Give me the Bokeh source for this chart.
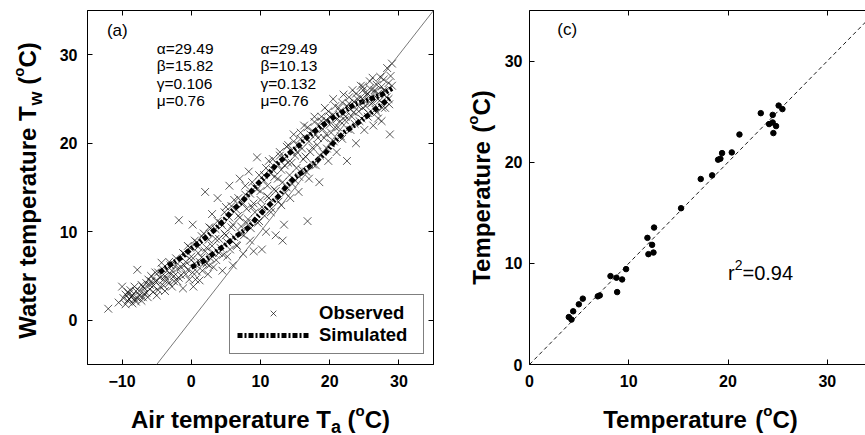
import numpy as np
from bokeh.plotting import figure
from bokeh.layouts import row, column
from bokeh.models import (Label, LinearAxis, FixedTicker, Legend, LegendItem, Slope,
                          CustomJSTickFormatter, Range1d)
from bokeh.embed import file_html
from bokeh.resources import INLINE

FONT = "Liberation Sans"

# ---------------- data: panel (a) ----------------
observed = [
    (-12, 1.3), (-10.5, 2.0), (-10, 3.8), (-9.8, 2.5), (-9.5, 1.8), (-9.2, 2.2), (-9, 3.0), (-8.7, 2.6), (-8.5, 1.9), (-8.2, 2.4),
    (-8, 3.3), (-7.8, 5.7), (-7.5, 2.8), (-7.2, 2.2), (-7, 3.8), (-6.8, 3.0), (-6.5, 4.2), (-6.3, 2.6), (-6, 3.5), (-5.8, 5.0),
    (-5.5, 3.2), (-5.2, 4.4), (-5, 2.8), (-4.8, 5.4), (-4.5, 3.8), (-4.3, 6.5), (-4, 4.6), (-3.8, 3.3), (-3.5, 5.6), (-3.2, 4.2),
    (-3, 6.2), (-2.8, 3.8), (-2.5, 5.0), (-2.2, 7.0), (-2, 4.4), (-1.8, 11.3), (-1.5, 6.0), (-1.2, 3.6), (-1, 7.5), (-0.8, 5.2),
    (-0.5, 8.4), (-0.3, 4.6), (0, 6.8), (0.2, 10.8), (0.3, 3.8), (0.5, 9.0), (0.8, 5.5), (1, 7.6), (1.2, 4.5), (1.5, 9.5),
    (1.8, 6.4), (2, 14.5), (2.2, 8.2), (2.4, 5.2), (2.6, 10.5), (2.8, 7.0), (3, 12.0), (3.2, 6.0), (3.5, 9.2), (3.8, 13.8),
    (4, 7.6), (4.2, 11.0), (4.5, 5.6), (4.8, 9.8), (5, 12.8), (5.2, 7.2), (5.5, 15.2), (5.8, 10.5), (6, 6.2), (6.2, 13.6),
    (6.5, 8.5), (6.8, 11.8), (7, 16.0), (7.2, 9.8), (7.5, 7.5), (7.8, 14.2), (8, 11.0), (8.3, 16.8), (8.5, 9.0), (8.8, 12.8),
    (9, 7.8), (9.2, 15.0), (9.5, 18.4), (9.8, 11.2), (10, 13.6), (10.2, 8.0), (10.5, 16.4), (10.8, 10.0), (11, 14.0), (11.2, 18.0),
    (11.5, 12.2), (11.8, 17.0), (12, 14.8), (12.2, 9.6), (12.5, 16.0), (12.8, 19.0), (13, 13.0), (13.2, 9.0), (13.4, 10.8), (13.5, 17.5),
    (13.8, 15.0), (14, 19.8), (14.3, 13.8), (14.5, 17.8), (14.8, 21.0), (15, 15.8), (15.3, 19.0), (15.5, 14.5), (15.8, 20.5), (16, 17.0),
    (16.3, 22.0), (16.5, 18.5), (16.8, 11.2), (17, 16.0), (17.2, 21.0), (17.5, 19.5), (17.8, 23.0), (18, 17.5), (18.3, 20.6), (18.5, 15.6),
    (18.8, 22.5), (19, 19.0), (19.3, 24.0), (19.5, 21.0), (19.8, 18.0), (20, 23.0), (20.2, 20.0), (20.5, 25.0), (20.8, 21.8), (21, 19.0),
    (21.3, 24.0), (21.5, 22.5), (21.8, 20.5), (22, 25.5), (22.3, 23.0), (22.5, 18.0), (22.8, 24.5), (23, 21.5), (23.3, 26.0), (23.5, 23.5),
    (23.8, 20.0), (24, 25.0), (24.3, 22.5), (24.5, 26.5), (24.8, 24.0), (25, 21.5), (25.3, 25.5), (25.5, 23.0), (25.8, 27.0), (26, 24.5),
    (26.3, 22.0), (26.5, 26.0), (26.8, 23.5), (27, 25.0), (27.3, 27.5), (27.5, 22.5), (27.8, 26.0), (28, 24.0), (28.3, 28.5), (28.5, 25.0),
    (28.7, 21.0), (29, 29.0), (29, 26.5),
    (-9, 2.4), (-8.5, 2.8), (-8, 2.1), (-7.5, 3.3), (-7, 2.6), (-6.5, 3.1), (-6, 4.0), (-5.5, 3.9), (-5, 4.5), (-4.5, 4.8),
    (-4, 3.9), (-3.5, 4.6), (-3, 5.2), (-2.5, 4.4), (-2, 5.8), (-1.5, 5.1), (-1, 6.2), (-0.5, 5.7), (0, 7.2), (0.5, 6.4),
    (1, 8.3), (1.5, 7.1), (2, 7.8), (2.5, 9.1), (3, 8.4), (3.5, 10.3), (4, 9.2), (4.5, 10.7), (5, 9.6), (5.5, 11.6),
    (6, 10.8), (6.5, 12.5), (7, 11.6), (7.5, 13.2), (8, 12.6), (8.5, 14.3), (9, 13.2), (9.5, 14.8), (10, 14.6), (10.5, 15.8),
    (11, 15.2), (11.5, 16.6), (12, 16.2), (12.5, 17.6), (13, 17.0), (13.5, 18.3), (14, 17.8), (14.5, 19.2), (15, 18.6), (15.5, 19.8),
    (16, 19.4), (16.5, 20.6), (17, 20.2), (17.5, 21.4), (18, 21.0), (18.5, 22.0), (19, 21.6), (19.5, 22.6), (20, 22.1), (20.5, 23.2),
    (21, 22.7), (21.5, 23.6), (22, 23.3), (22.5, 24.2), (23, 23.8), (23.5, 24.7), (24, 24.3), (24.5, 25.2), (25, 24.8), (25.5, 25.6),
    (26, 25.2), (26.5, 25.8), (27, 25.6), (27.5, 26.4), (28, 25.9), (28.5, 26.8),
    (-9.5, 2.9), (-8.8, 3.4), (-7.8, 2.5), (-6.8, 3.6), (-5.8, 4.4), (-4.8, 3.4), (-3.8, 5.0), (-2.8, 5.6), (-1.8, 4.8), (-0.8, 6.6),
    (0.2, 5.4), (1.2, 6.6), (2.2, 6.4), (3.2, 7.6), (4.2, 8.2), (5.2, 8.8), (6.2, 9.4), (7.2, 10.6), (8.2, 11.4), (9.2, 12.2),
    (10.2, 12.8), (11.2, 13.8), (12.2, 14.6), (13.2, 15.6), (14.2, 16.4), (15.2, 17.2), (16.2, 18.2), (17.2, 19.0), (18.2, 19.8), (19.2, 20.6),
    (20.2, 21.2), (21.2, 21.8), (22.2, 22.6), (23.2, 23.0), (24.2, 23.6), (25.2, 24.2), (26.2, 24.6), (27.2, 24.8), (28.2, 25.2), (24.8, 26.0),
    (-9.2, 3.2), (-8.2, 3.8), (-7.2, 4.0), (-6.2, 4.6), (-5.2, 5.4), (-4.2, 5.8), (-3.2, 6.6), (-2.2, 6.2), (-1.2, 7.6), (-0.2, 8.2),
    (0.8, 8.8), (1.8, 9.8), (2.8, 10.4), (3.8, 11.2), (4.8, 12.2), (5.8, 12.9), (6.8, 13.8), (7.8, 15.2), (8.8, 15.6), (9.8, 16.4),
    (10.8, 17.2), (11.8, 18.2), (12.8, 18.6), (13.8, 19.6), (14.8, 20.2), (15.8, 21.2), (16.8, 21.8), (17.8, 22.4), (18.8, 23.0), (19.8, 23.6),
    (20.8, 24.2), (21.8, 24.6), (22.8, 25.2), (23.8, 25.6), (24.8, 26.4), (25.8, 26.2), (26.8, 26.6), (27.8, 27.2), (26.2, 27.4), (28.8, 27.6),
    (0.6, 4.6), (1.6, 5.6), (2.6, 6.2), (3.6, 6.8), (4.6, 7.4), (5.6, 8.0), (6.6, 8.4), (7.6, 9.6), (8.6, 10.4), (9.6, 11.0),
    (10.6, 11.8), (11.6, 12.6), (12.6, 13.4), (13.6, 14.4), (14.6, 15.4), (15.6, 16.2), (16.6, 16.8), (17.6, 17.6), (18.6, 18.6), (19.6, 19.4),
    (20.6, 20.2), (21.6, 20.8), (22.6, 21.6), (23.6, 22.2), (24.6, 22.8), (25.6, 23.4), (26.6, 23.8), (27.6, 24.0), (28.6, 24.4), (27, 22.8),
]
obs_ta = [a for a, _ in observed]
obs_tw = [b for _, b in observed]

sim1_ta = [-4.6, -3.2, -1.4, 0, 1.7, 3.2, 4.6, 5.8, 7.2, 8.5, 9.7, 11.1, 12.3, 13.9, 15.5, 16.9, 18.6, 20.3, 22, 23.6, 25.6, 27.5, 29]
sim1_tw = [5.4, 6.2, 7.1, 8.1, 9.1, 10.1, 11.2, 12.3, 13.3, 14.4, 15.5, 16.5, 17.6, 18.7, 19.7, 20.8, 21.8, 22.8, 23.6, 24.4, 24.9, 25.5, 26.2]
sim2_ta = [0, 1.8, 3.3, 5.1, 6.5, 8.3, 9.7, 11.1, 12.6, 13.8, 14.9, 16.7, 18.1, 19.6, 20.7, 22.2, 23.9, 25.6, 27.2, 28.7]
sim2_tw = [6.0, 6.7, 7.6, 8.6, 9.5, 10.5, 11.8, 12.9, 14.0, 15.2, 16.1, 17.1, 18.0, 19.1, 20.2, 21.3, 22.2, 23.2, 24.2, 25.1]

params_left = ["\u03b1=29.49", "\u03b2=15.82", "\u03b3=0.106", "\u03bc=0.76"]
params_right = ["\u03b1=29.49", "\u03b2=10.13", "\u03b3=0.132", "\u03bc=0.76"]
params_y = [30.67, 28.76, 26.74, 24.83]

ticks_a_x = [-10, 0, 10, 20, 30]
ticks_a_y = [0, 10, 20, 30]

# ---------------- data: panel (c) ----------------
c_x = [3.96, 4.23, 4.4, 4.97, 5.37, 6.88, 7.08, 8.16, 8.76, 9.33, 9.73, 8.83, 11.88, 11.98, 12.35, 12.49, 12.55,
       15.27, 17.25, 18.4, 19.0, 19.23, 19.4, 20.38, 21.15, 23.3, 24.5, 25.1, 25.48, 24.14, 24.5, 24.84, 24.57]
c_y = [4.69, 4.44, 5.26, 5.95, 6.51, 6.74, 6.83, 8.74, 8.58, 8.41, 9.43, 7.16, 12.52, 10.91, 11.83, 11.07, 13.54,
       15.45, 18.34, 18.7, 20.25, 20.35, 20.9, 20.97, 22.74, 24.85, 24.68, 25.6, 25.25, 23.77, 23.93, 23.57, 22.88]
ticks_c = [0, 10, 20, 30]
r2_text = ["r", "2", "=0.94"]

# Arial-like advance widths (per 1000 em) for composing multi-part texts
W = {' ': 278, '(': 333, ')': 333, 'A': 722, 'C': 722, 'T': 611, 'W': 944, 'a': 556, 'e': 556,
     'i': 278, 'm': 889, 'p': 611, 'r': 389, 't': 333, 'u': 611, 'w': 778, 'o': 611}
W_REG = {'r': 333, '2': 556, '=': 584, '0': 556, '.': 278, '9': 556, '4': 556}

SHIFT_H = 7   # baseline correction for horizontal titles (px, upward)
SHIFT_V = 9   # baseline correction for rotated titles (px, leftward)


def tw(txt, size, table=W):
    return sum(table.get(c, 556) for c in txt) / 1000.0 * size


def total(pieces):
    return sum(tw(t, s) for t, s, _ in pieces)


def make_axis(ticks, labels=True, standoff=10):
    ax = LinearAxis(ticker=FixedTicker(ticks=ticks))
    ax.major_tick_in = 5
    ax.major_tick_out = 0
    ax.minor_tick_line_color = None
    ax.axis_line_color = "black"
    ax.major_tick_line_color = "black"
    ax.major_label_text_font = FONT
    ax.major_label_text_font_style = "bold"
    ax.major_label_text_color = "black"
    if labels:
        ax.major_label_text_font_size = "16px"
        ax.major_label_standoff = standoff
    else:
        ax.major_label_text_font_size = "1px"
        ax.major_label_standoff = 0
        ax.formatter = CustomJSTickFormatter(code="return ''")
    return ax


def text_fig(w, h, xr, yr, bl=0, br=0, bt=0, bb=0):
    f = figure(width=w, height=h, x_range=Range1d(*xr), y_range=Range1d(*yr),
               output_backend="svg", toolbar_location=None,
               x_axis_location=None, y_axis_location=None,
               min_border_left=bl, min_border_right=br, min_border_top=bt, min_border_bottom=bb)
    f.xgrid.grid_line_color = None
    f.ygrid.grid_line_color = None
    f.outline_line_color = None
    f.background_fill_color = "white"
    f.border_fill_color = "white"
    return f


def compose(p, pieces, x0, y0, rotated):
    # title pieces (with sub/superscripts) placed in page-pixel data units (y up)
    pos = 0.0
    for txt, size, dy in pieces:
        lead = len(txt) - len(txt.lstrip(" "))
        pos += tw(" " * lead, size)          # leading blanks would collapse in SVG
        body = txt.lstrip(" ")
        kw = dict(text=body, text_font=FONT, text_font_style="bold",
                  text_font_size=f"{size}px", text_color="black",
                  text_align="left", text_baseline="alphabetic")
        if rotated:
            lab = Label(x=x0 - dy - SHIFT_V, y=y0 + pos, angle=np.pi / 2, **kw)
        else:
            lab = Label(x=x0 + pos, y=y0 + dy + SHIFT_H, **kw)
        p.add_layout(lab)
        pos += tw(body, size)


# ================= panel (a) =================
pA = figure(width=390, height=400, x_range=Range1d(-15, 35), y_range=Range1d(-5, 35),
            output_backend="svg", toolbar_location=None,
            x_axis_location=None, y_axis_location=None,
            min_border_left=37, min_border_right=7, min_border_top=10, min_border_bottom=36)
pA.xgrid.grid_line_color = None
pA.ygrid.grid_line_color = None
pA.outline_line_color = "black"
pA.background_fill_color = "white"
pA.border_fill_color = "white"

pA.add_layout(make_axis(ticks_a_x, True, 10), "below")
pA.add_layout(make_axis(ticks_a_y, True, 10), "left")
pA.add_layout(make_axis(ticks_a_x, False), "above")
pA.add_layout(make_axis(ticks_a_y, False), "right")

pA.add_layout(Slope(gradient=1, y_intercept=0, line_color="#555555", line_width=0.8))

obs_r = pA.scatter(obs_ta, obs_tw, marker="x", size=11, line_color="black",
                   line_alpha=0.65, line_width=1)
sim1_r = pA.line(sim1_ta, sim1_tw, line_color="black", line_width=5, line_dash="5 2 2 2")
sim2_r = pA.line(sim2_ta, sim2_tw, line_color="black", line_width=5, line_dash="5 2 2 2")

leg = Legend(items=[LegendItem(label="Observed", renderers=[obs_r]),
                    LegendItem(label="Simulated", renderers=[sim1_r])],
             location=(142, 10), glyph_width=72, glyph_height=20, label_standoff=10,
             label_width=97, label_height=20, padding=7, spacing=0, margin=0,
             border_line_color="black", border_line_width=1,
             background_fill_color="white", background_fill_alpha=1,
             label_text_font=FONT, label_text_font_style="bold", label_text_font_size="18.5px",
             label_text_color="black")
pA.add_layout(leg)

pA.add_layout(Label(x=-12.2, y=32.7, text="(a)", text_font=FONT, text_font_size="17px",
                    text_baseline="middle", text_align="left", text_color="black"))
for i, yv in enumerate(params_y):
    pA.add_layout(Label(x=-5, y=yv, text=params_left[i], text_font=FONT, text_font_size="15.5px",
                        text_baseline="middle", text_align="left", text_color="black"))
    pA.add_layout(Label(x=10, y=yv, text=params_right[i], text_font=FONT, text_font_size="15.5px",
                        text_baseline="middle", text_align="left", text_color="black"))

# axis titles of panel (a): separate strips whose frames line up with the panel frame;
# data units there are page pixels (x from the page left, y up from the page bottom)
xa_pieces = [("Air temperature T", 24, 0), ("a", 18, -7), (" (", 24, 0), ("o", 15, 9), ("C)", 24, 0)]
ya_pieces = [("Water temperature T", 24, 0), ("w", 18, -8), (" (", 24, 0), ("o", 15, 9), ("C)", 24, 0)]

yA = text_fig(50, 435, (0, 50), (71, 425), bt=10, bb=71)
compose(yA, ya_pieces, 36, 245 - total(ya_pieces) / 2, True)
xA = text_fig(390, 35, (87, 433), (0, 35), bl=37, br=7)
compose(xA, xa_pieces, 260 - total(xa_pieces) / 2, 9, False)

# ================= panel (c) =================
pC = figure(width=365, height=400, x_range=Range1d(0, 33.85), y_range=Range1d(0, 35),
            output_backend="svg", toolbar_location=None,
            x_axis_location=None, y_axis_location=None,
            min_border_left=29, min_border_right=0, min_border_top=10, min_border_bottom=36)
pC.xgrid.grid_line_color = None
pC.ygrid.grid_line_color = None
pC.outline_line_color = None
pC.background_fill_color = "white"
pC.border_fill_color = "white"
pC.add_layout(make_axis(ticks_c, True, 10), "below")
pC.add_layout(make_axis(ticks_c, True, 7), "left")
pC.add_layout(make_axis(ticks_c, False), "above")

pC.add_layout(Slope(gradient=1, y_intercept=0, line_color="black", line_width=0.9, line_dash="4 3"))
pC.scatter(c_x, c_y, marker="circle", size=5.5, fill_color="black", line_color="black")

pC.add_layout(Label(x=2.8, y=33.1, text="(c)", text_font=FONT, text_font_size="17px",
                    text_baseline="middle", text_align="left", text_color="black"))
# r^2 = 0.94 composed from pieces (data units: 9.93 px per unit in x, 10.14 px in y)
r2_sizes = [20, 14, 20]
r2_raise = [0, 8, 0]
xpos = 20.0
for txt, sz, rz in zip(r2_text, r2_sizes, r2_raise):
    pC.add_layout(Label(x=xpos, y=9.0 + rz / 10.14, text=txt, text_font=FONT,
                        text_font_size=f"{sz}px", text_baseline="alphabetic",
                        text_align="left", text_color="black"))
    xpos += tw(txt, sz, W_REG) / 9.93

c_pieces = [("Temperature", 24, 0), (" (", 24, 0), ("o", 15, 9), ("C)", 24, 0)]
yC = text_fig(60, 435, (440, 500), (71, 425), bt=10, bb=71)
compose(yC, c_pieces, 490, 248 - total(c_pieces) / 2, True)
xC = text_fig(365, 35, (529, 865), (0, 35), bl=29, br=0)
compose(xC, c_pieces, 700 - total(c_pieces) / 2, 9, False)

layout = row(yA, column(pA, xA), yC, column(pC, xC))
open("out.html", "w").write(file_html(layout, INLINE))
